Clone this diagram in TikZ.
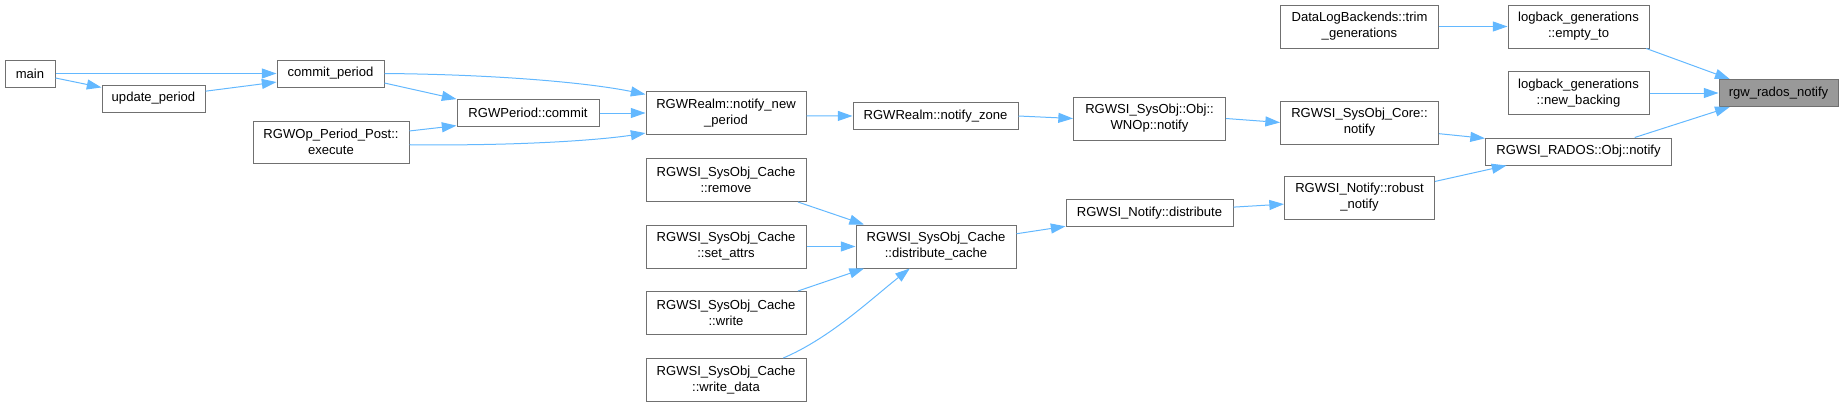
\documentclass[tikz,border=0pt]{standalone}
\usepackage{fontspec}
\setmainfont{Liberation Sans}
\usetikzlibrary{arrows.meta}
\definecolor{edgeblue}{RGB}{99,184,255}
\definecolor{boxline}{RGB}{112,112,112}
\definecolor{boxhl}{RGB}{153,153,153}
\newcommand{\fnfont}{\fontsize{9.8}{12}\selectfont}

\begin{document}
\begin{tikzpicture}[
  x=0.75pt,y=-0.75pt,
  fn/.style 2 args={draw=boxline,fill=white,line width=0.75pt,inner sep=0pt,
    minimum width=#1*0.75pt,minimum height=#2*0.75pt,align=center,font=\fnfont},
  hl/.style={fill=boxhl},
  call/.style={-{Triangle[length=11pt,width=7.5pt]},edgeblue,line width=0.75pt},
]
\useasboundingbox (0,0) rectangle (1843,407);

% ---- left: period callers ----
\node[fn={50}{27}] (main) at (30,73.5) {main};
\node[fn={103}{27}] (up) at (153.5,98.5) {update\_period};
\node[fn={107}{27}] (cp) at (330.5,73.5) {commit\_period};
\node[fn={156}{42}] (ex) at (331,142) {RGWOp\_Period\_Post::\\execute};
\node[fn={142}{27}] (pc) at (528,113) {RGWPeriod::commit};
\node[fn={160}{43}] (nnp) at (726,113) {RGWRealm::notify\_new\\\_period};
\node[fn={165}{27}] (nz) at (935.5,116) {RGWRealm::notify\_zone};

% ---- bottom: cache callers ----
\foreach \n/\t/\y in {rm/remove/180,sa/set\_attrs/246.5,wr/write/313,wd/write\_data/380}{
  \node[fn={160}{43}] (\n) at (726,\y) {RGWSI\_SysObj\_Cache\\::\t};
}
\node[fn={160}{43}] (dc) at (936,246.5) {RGWSI\_SysObj\_Cache\\::distribute\_cache};
\node[fn={167}{27}] (nd) at (1149.5,213) {RGWSI\_Notify::distribute};

% ---- right: notify chain ----
\node[fn={152}{43}] (wn) at (1149.5,118.5) {RGWSI\_SysObj::Obj::\\WNOp::notify};
\node[fn={158}{43}] (trim) at (1359.5,26.5) {DataLogBackends::trim\\\_generations};
\node[fn={158}{43}] (core) at (1359.5,122.5) {RGWSI\_SysObj\_Core::\\notify};
\node[fn={150}{43}] (rn) at (1359.5,197.5) {RGWSI\_Notify::robust\\\_notify};
\node[fn={141}{43}] (et) at (1578.5,26.5) {logback\_generations\\::empty\_to};
\node[fn={141}{43}] (nb) at (1578.5,93) {logback\_generations\\::new\_backing};
\node[fn={186}{27}] (rados) at (1578.5,151.5) {RGWSI\_RADOS::Obj::notify};
\node[fn={119}{27},hl] (rgw) at (1778.5,93) {rgw\_rados\_notify};

% ---- calls ----
\draw[call] (main.east) -- (cp.west);
\draw[call] (main.-10) -- (up.168);
\draw[call] (up.8) -- (cp.189);
\draw[call] (cp.east) .. controls (500,74.5) and (590,83) .. (nnp.167);
\draw[call] (cp.-10) -- (pc.169);
\draw[call] (ex.8) -- (pc.190);
\draw[call] (ex.-2) .. controls (520,146) and (600,140) .. (nnp.194);
\draw[call] (pc.east) -- (nnp.west);
\draw[call] (nnp.-2) -- (nz.west);
\draw[call] (nz.east) -- (wn.west);
\draw[call] (wn.east) -- (core.west);
\draw[call] (core.-8) -- (rados.172);
\draw[call] (rn.12) -- (rados.191);
\draw[call] (rados.14) -- (rgw.196);
\draw[call] (trim.east) -- (et.west);
\draw[call] (et.-18) -- (rgw.164);
\draw[call] (nb.east) -- (rgw.west);
\draw[call] (rm.-17) -- (dc.163);
\draw[call] (sa.east) -- (dc.west);
\draw[call] (wr.17) -- (dc.197);
\draw[call] (wd.21) .. controls (830,338) and (870,300) .. (dc.220);
\draw[call] (dc.9) -- (nd.189);
\draw[call] (nd.4) -- (rn.185);
\end{tikzpicture}
\end{document}
